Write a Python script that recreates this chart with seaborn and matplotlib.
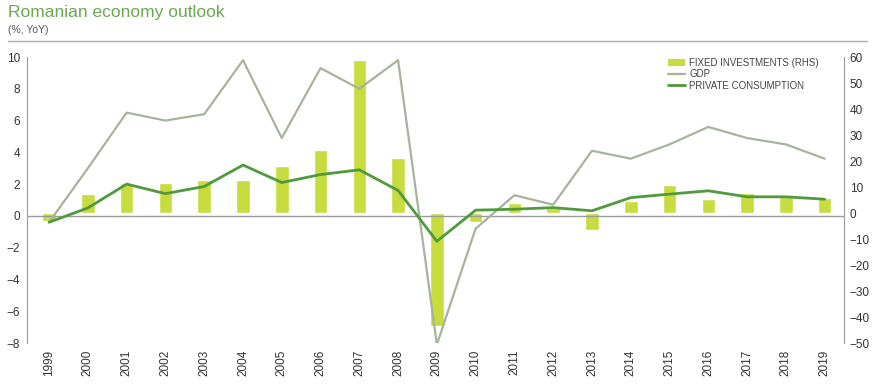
import matplotlib

matplotlib.use("Agg")
import matplotlib.pyplot as plt
import pandas as pd
import seaborn as sns
from matplotlib.lines import Line2D
from matplotlib.patches import Patch

# ================================================================
# Data
# ================================================================
years = [str(y) for y in range(1999, 2020)]
gdp = [-0.4, 3.0, 6.5, 6.0, 6.4, 9.8, 4.9, 9.3, 8.0, 9.8, -8.1,
       -0.8, 1.3, 0.7, 4.1, 3.6, 4.5, 5.6, 4.9, 4.5, 3.6]
private_consumption = [-0.4, 0.5, 2.0, 1.4, 1.85, 3.2, 2.1, 2.6, 2.9, 1.6, -1.6,
                       0.36, 0.42, 0.52, 0.32, 1.15, 1.37, 1.58, 1.2, 1.2, 1.05]
fixed_investments = [-3.0, 7.2, 11.4, 11.4, 12.6, 12.6, 18.2, 24.2, 58.8, 21.3, -43.5,
                     -3.3, 3.7, 2.0, -6.7, 4.6, 10.6, 5.4, 7.8, 6.3, 5.9]
left_ticks = [-8, -6, -4, -2, 0, 2, 4, 6, 8, 10]
right_ticks = [-50, -40, -30, -20, -10, 0, 10, 20, 30, 40, 50, 60]

df = pd.DataFrame({"year": years, "gdp": gdp, "pc": private_consumption, "fi": fixed_investments})
df["pos"] = range(len(df))

BAR_C = "#c9dc3f"
GDP_C = "#a7b49c"
PC_C = "#4f9a3c"
TITLE_C = "#6aa84f"
AXIS_C = "#9a9a9a"

sns.set_style("white")
plt.rcParams["font.family"] = ["Liberation Sans", "DejaVu Sans"]

fig = plt.figure(figsize=(8.8, 3.92), dpi=100)
ax = fig.add_axes([27 / 880, 1 - 343 / 392, (844 - 27) / 880, (343 - 57) / 392])
ax2 = ax.twinx()

# bars on right axis
sns.barplot(data=df, x="pos", y="fi", ax=ax2, color=BAR_C, width=0.35,
            saturation=1, native_scale=True)
# lines on left axis
sns.lineplot(data=df, x="pos", y="gdp", ax=ax, color=GDP_C, linewidth=1.6)
sns.lineplot(data=df, x="pos", y="pc", ax=ax, color=PC_C, linewidth=2.0)

ax.set_zorder(ax2.get_zorder() + 1)
ax.patch.set_visible(False)

ax.set_ylim(-8, 10)
ax2.set_ylim(-50, 60)
ax.set_xlim(-0.57, 20.5)
ax2.set_xlim(-0.57, 20.5)
ax.axhline(0, color=AXIS_C, lw=1, zorder=0)

ax.set_yticks(left_ticks)
ax2.set_yticks(right_ticks)
ax.set_xticks(df["pos"])
ax.set_xticklabels(years, rotation=90)
ax.tick_params(axis="both", length=0, labelsize=8.5, colors="#333333", pad=5)
ax2.tick_params(axis="both", length=0, labelsize=8.5, colors="#333333", pad=4)
ax.set_xlabel("")
ax.set_ylabel("")
ax2.set_xlabel("")
ax2.set_ylabel("")

for a in (ax, ax2):
    for s in a.spines.values():
        s.set_visible(False)
ax.spines["left"].set_visible(True)
ax.spines["left"].set_color(AXIS_C)
ax2.spines["right"].set_visible(True)
ax2.spines["right"].set_color(AXIS_C)

handles = [
    Patch(facecolor=BAR_C, edgecolor="none"),
    Line2D([], [], color=GDP_C, lw=1.6),
    Line2D([], [], color=PC_C, lw=2.0),
]
labels = ["FIXED INVESTMENTS (RHS)", "GDP", "PRIVATE CONSUMPTION"]
ax.legend(handles, labels, loc="upper left", bbox_to_anchor=(663 / 880, 1 - 53 / 392),
          bbox_transform=fig.transFigure, frameon=False, fontsize=7,
          handlelength=1.8, handleheight=0.7, labelspacing=0.15, borderpad=0,
          handletextpad=0.4, labelcolor="#444444")

# header
fig.text(8 / 880, 1 - 13 / 392, "Romanian economy outlook", color=TITLE_C,
         fontsize=12.5, va="center", ha="left")
fig.text(8 / 880, 1 - 30 / 392, "(%, YoY)", color="#555555", fontsize=7.5,
         va="center", ha="left")
fig.add_artist(Line2D([8 / 880, 867 / 880], [1 - 41 / 392, 1 - 41 / 392],
                      color="#aaaaaa", lw=1, transform=fig.transFigure))

fig.savefig("out.png", dpi=100)
plt.close(fig)
